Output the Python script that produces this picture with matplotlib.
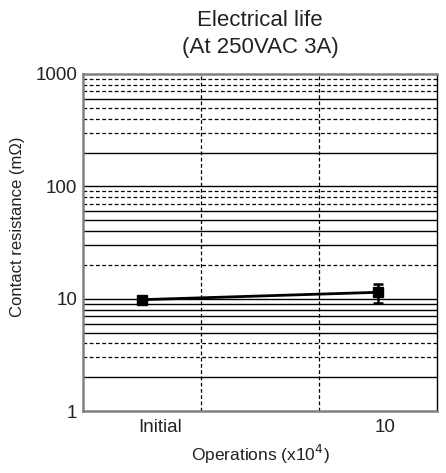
import numpy as np
import matplotlib
matplotlib.use("Agg")
import matplotlib.pyplot as plt

plt.rcParams['font.family'] = ['Liberation Sans', 'DejaVu Sans']

# Data
categories = ["Initial", "10"]
x_pos = [0.5, 2.5]
label_pos = [0.65, 2.56]
resistance = [9.8, 11.4]
err_low = [0.5, 2.2]
err_high = [0.5, 2.1]

# Horizontal grid lines: which levels are solid and which are dashed
solid_levels = [2, 5, 6, 7, 8, 9, 10, 30, 40, 50, 60, 100, 200, 600]
dashed_levels = [3, 4, 20, 70, 80, 90, 300, 400, 500, 700, 800, 900]
vertical_lines = [1, 2]

fig = plt.figure(figsize=(4.46, 4.73), dpi=100)
ax = fig.add_axes([0.186, 0.131, 0.794, 0.7126])

for v in solid_levels:
    ax.axhline(v, color='black', lw=1.0, zorder=1)
for v in dashed_levels:
    ax.axhline(v, color='black', lw=0.9, ls=(0, (3, 2)), zorder=1)
for v in vertical_lines:
    ax.axvline(v, color='black', lw=0.9, ls=(0, (3, 2)), zorder=1)

ax.errorbar(x_pos, resistance, yerr=[err_low, err_high], color='black',
            lw=2, marker='s', markersize=7, capsize=3.5, capthick=1.8,
            elinewidth=1.8, zorder=3)

ax.set_yscale('log')
ax.set_ylim(1, 1000)
ax.set_xlim(0, 3)
ax.set_yticks([1, 10, 100, 1000])
ax.set_yticklabels(["1", "10", "100", "1000"])
ax.yaxis.set_minor_locator(matplotlib.ticker.NullLocator())
ax.set_xticks(label_pos)
ax.set_xticklabels(categories)
ax.tick_params(axis='both', length=0, labelsize=13.5, colors='#222222')
ax.tick_params(axis='x', pad=6)
ax.tick_params(axis='y', pad=4)

for side in ['left', 'bottom', 'top']:
    ax.spines[side].set_color('#808080')
    ax.spines[side].set_linewidth(1.8)
ax.spines['right'].set_color('black')
ax.spines['right'].set_linewidth(1.0)

ax.set_ylabel("Contact resistance (mΩ)", fontsize=12, color='#222222')
ax.yaxis.set_label_coords(-0.164, 0.546)
ax.set_xlabel("Operations (x10$^4$)", fontsize=12.5, color='#222222', labelpad=5)
ax.set_title("Electrical life\n(At 250VAC 3A)", fontsize=16, color='#222222',
             linespacing=1.4, pad=15)

fig.savefig("out.png", dpi=100)
